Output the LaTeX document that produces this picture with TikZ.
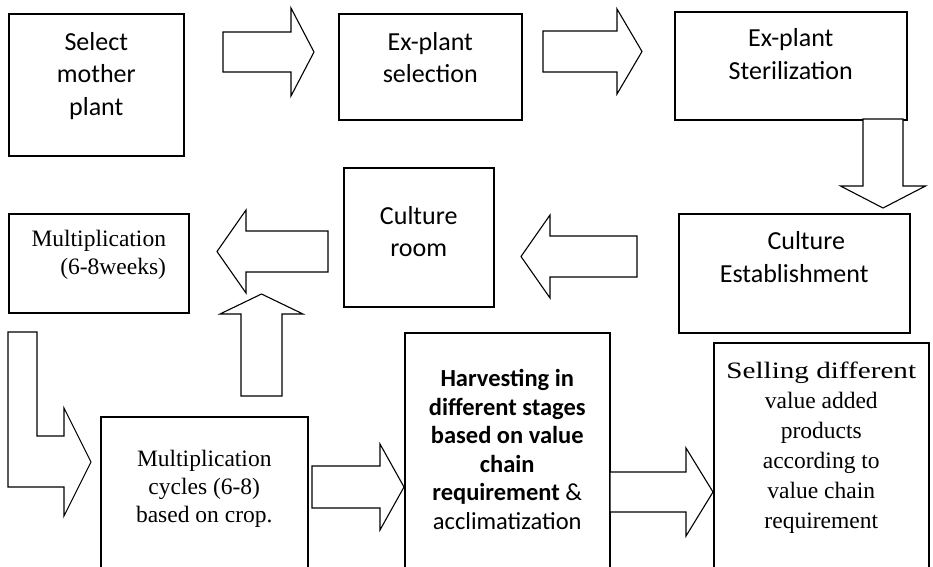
\documentclass[tikz,border=0pt]{standalone}
\usepackage{fontspec}
\setmainfont{Carlito}
\newfontfamily\timesfont{Liberation Serif}
\usepackage{tikz}
\tikzstyle{box} = [rectangle, draw=black, line width=1.5pt, inner sep=0pt, anchor=north west]
\tikzstyle{boxtext} = [align=center, inner sep=0pt, font=\fontsize{26}{32.5}\selectfont]
\tikzstyle{boldtext} = [align=center, inner sep=0pt, font=\fontsize{24.5}{28.5}\selectfont]
\tikzstyle{seriftext} = [align=center, inner sep=0pt, font=\timesfont\fontsize{23.5}{28}\selectfont]
\tikzstyle{blockarrow} = [draw=black, line width=1.1pt, line join=miter, fill=white]
% block arrow: tail, angle, length, shaft half width, head half width, head length
\newcommand{\bigarrow}[6]{%
  \draw[blockarrow, shift={(#1)}, rotate=#2]
    (0,-#4) -- ({#3-#6},-#4) -- ({#3-#6},-#5) -- (#3,0)
    -- ({#3-#6},#5) -- ({#3-#6},#4) -- (0,#4) -- cycle;}

\begin{document}
\begin{tikzpicture}[x=1pt, y=-1pt]
\useasboundingbox (0,0) rectangle (933,566);
\clip (0,0) rectangle (933,566);

% Boxes
\node (select) [box, minimum width=175pt, minimum height=142pt] at (8,13) {};
\node (explant) [box, minimum width=183pt, minimum height=106pt] at (338,13) {};
\node (steril) [box, minimum width=232pt, minimum height=108pt] at (674,11) {};
\node (establish) [box, minimum width=231pt, minimum height=119pt] at (678,213) {};
\node (room) [box, minimum width=150pt, minimum height=139pt] at (343,167) {};
\node (multi) [box, minimum width=180pt, minimum height=99pt] at (8,213) {};
\node (cycles) [box, minimum width=207pt, minimum height=184pt] at (100,416) {};
\node (harvest) [box, minimum width=205pt, minimum height=268pt] at (404,332) {};
\node (selling) [box, minimum width=215pt, minimum height=258pt] at (713,342) {};

% Texts
\node (select-t) [boxtext] at ([yshift=9pt]select.center) {Select\\mother\\plant};
\node (explant-t) [boxtext] at ([yshift=9pt]explant.center) {Ex-plant\\selection};
\node (steril-t) [boxtext] at ([yshift=11.5pt]steril.center) {Ex-plant\\Sterilization};
\node (establish-t) [boxtext] at ([yshift=16pt]establish.center) {\hspace*{24pt}Culture\\Establishment};
\node (room-t) [boxtext] at ([yshift=5.5pt]room.center) {Culture\\room};
\node (multi-t) [seriftext, align=right] at ([yshift=8.5pt]multi.center) {Multiplication\\(6-8weeks)};
\node (cycles-t) [seriftext] at ([yshift=-73pt]cycles.north) {Multiplication\\cycles (6-8)\\based on crop.};
\node (harvest-t) [boldtext] at ([yshift=-117.5pt]harvest.north) {\textbf{Harvesting in}\\\textbf{different stages}\\\textbf{based on value}\\\textbf{chain}\\\textbf{requirement} \&\\acclimatization};
\node (selling-t) [seriftext, font=\timesfont\fontsize{23.5}{30}\selectfont] at ([yshift=-106pt]selling.north) {\scalebox{1.24}[1]{Selling different}\\value added\\products\\according to\\value chain\\requirement};

% Arrows
\coordinate (a1) at (223,52);
\coordinate (a2) at (543,51.5);
\coordinate (a3) at (883,119);
\coordinate (a4) at (637,256.5);
\coordinate (a5) at (328,251.5);
\coordinate (a6) at (261.5,396);
\coordinate (a8) at (312,487);
\coordinate (a9) at (610,492);
\bigarrow{a1}{0}{91}{20}{44}{23}
\bigarrow{a2}{0}{99}{20.5}{42.5}{25}
\bigarrow{a3}{-90}{89}{20}{42.5}{22}
\bigarrow{a4}{180}{116}{20.5}{41.5}{29}
\bigarrow{a5}{180}{111}{20.5}{41.5}{29}
\bigarrow{a6}{90}{102}{20.5}{41.5}{20}
\bigarrow{a8}{0}{92}{21}{43}{24}
\bigarrow{a9}{0}{103}{20}{44}{27}
% bent arrow from multiplication down to cycles
\draw[blockarrow] (8,332) -- (37,332) -- (37,436) -- (64,436) -- (64,408) -- (91,462)
  -- (64,516) -- (64,487) -- (8,487) -- cycle;

\end{tikzpicture}
\end{document}
